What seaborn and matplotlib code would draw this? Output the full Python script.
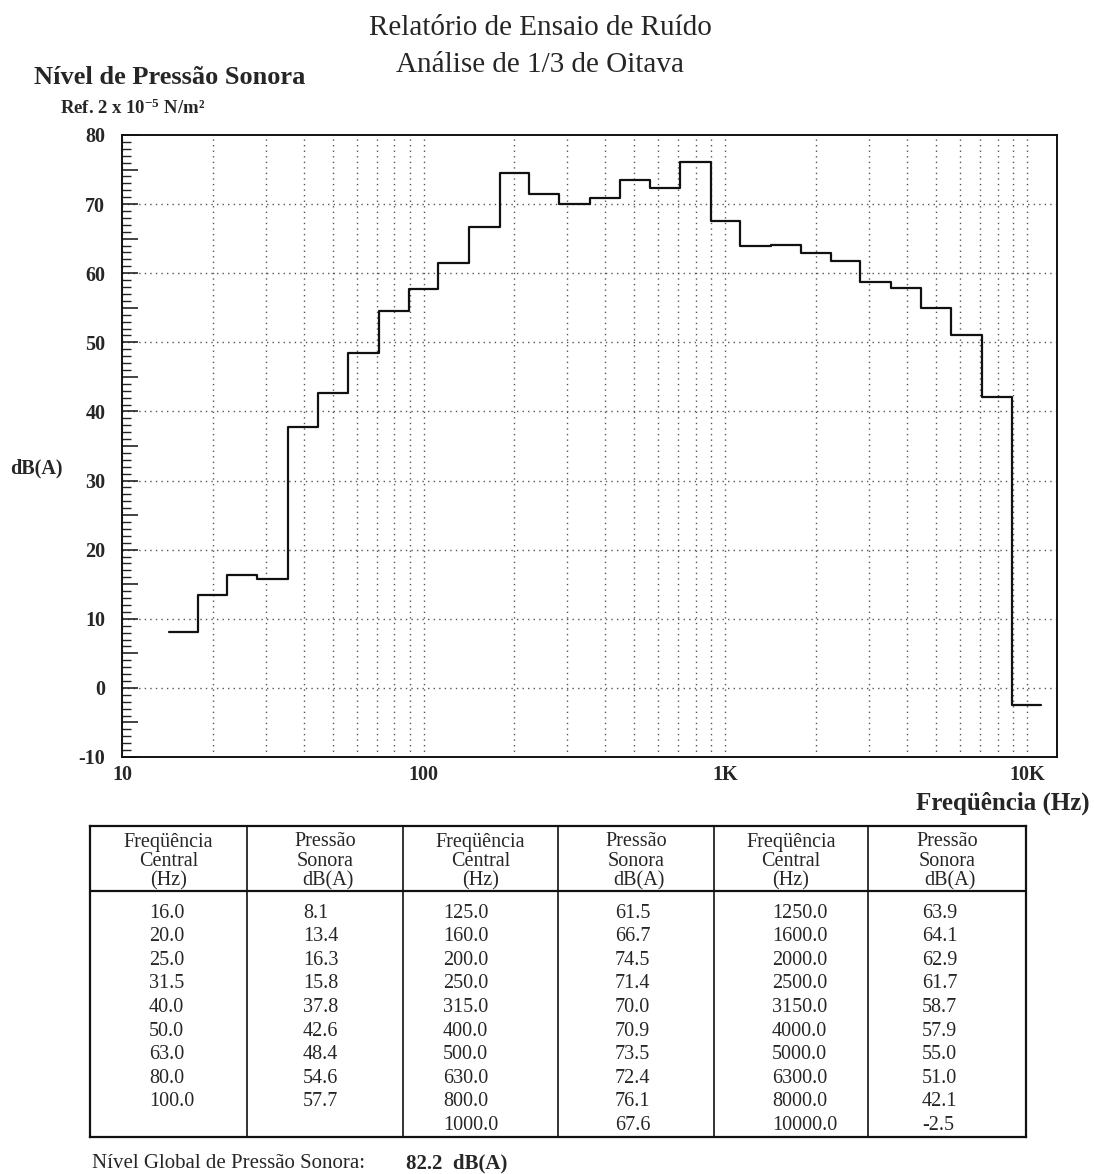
import numpy as np
import matplotlib
matplotlib.use("Agg")
import matplotlib.pyplot as plt
import matplotlib.ticker as mticker
import seaborn as sns

# ---------------- data ----------------
freqs = [16.0, 20.0, 25.0, 31.5, 40.0, 50.0, 63.0, 80.0, 100.0,
         125.0, 160.0, 200.0, 250.0, 315.0, 400.0, 500.0, 630.0, 800.0, 1000.0,
         1250.0, 1600.0, 2000.0, 2500.0, 3150.0, 4000.0, 5000.0, 6300.0, 8000.0, 10000.0]
levels = [8.1, 13.4, 16.3, 15.8, 37.8, 42.6, 48.4, 54.6, 57.7,
          61.5, 66.7, 74.5, 71.4, 70.0, 70.9, 73.5, 72.4, 76.1, 67.6,
          63.9, 64.1, 62.9, 61.7, 58.7, 57.9, 55.0, 51.0, 42.1, -2.5]
group_sizes = [9, 10, 10]
x_tick_values = [10, 100, 1000, 10000]
x_tick_labels = ["10", "100", "1K", "10K"]
overall_level = 82.2

title_lines = ["Relatório de Ensaio de Ruído", "Análise de 1/3 de Oitava"]
header_freq = ["Freqüência", "Central", "(Hz)"]
header_level = ["Pressão", "Sonora", "dB(A)"]

# ---------------- style ----------------
sns.set_style("white")
plt.rcParams["font.family"] = ["Liberation Serif", "DejaVu Serif"]
plt.rcParams["axes.unicode_minus"] = False
plt.rcParams["mathtext.fontset"] = "custom"
plt.rcParams["mathtext.rm"] = "Liberation Serif:bold"
plt.rcParams["mathtext.it"] = "Liberation Serif:bold"
plt.rcParams["mathtext.bf"] = "Liberation Serif:bold"
plt.rcParams["mathtext.default"] = "rm"

W, H = 1094, 1174
fig = plt.figure(figsize=(W / 100, H / 100), dpi=100)
fig.patch.set_facecolor("white")


def fx(x):
    return x / W


def fy(y):
    return 1 - y / H


# ---------------- main axes ----------------
ax_l, ax_r, ax_t, ax_b = 122, 1057, 135, 757
ax = fig.add_axes([fx(ax_l), fy(ax_b), (ax_r - ax_l) / W, (ax_b - ax_t) / H])

f = np.array(freqs)
lv = np.array(levels)
mids = np.sqrt(f[:-1] * f[1:])
first_edge = f[0] / np.sqrt(f[1] / f[0])
last_edge = f[-1] * np.sqrt(f[-1] / f[-2])
edges = np.concatenate([[first_edge], mids, [last_edge]])
vals = np.concatenate([lv, [lv[-1]]])

sns.lineplot(x=edges, y=vals, drawstyle="steps-post", estimator=None, sort=False,
             color="#111111", linewidth=1.6, ax=ax)

ax.set_xscale("log")
ax.set_xlim(10, 12600)
ax.set_ylim(-10, 80)

grid_style = dict(color="#555555", linestyle=(0, (1, 3)), linewidth=1.0)

# x ticks
ax.xaxis.set_major_locator(mticker.FixedLocator(x_tick_values))
ax.xaxis.set_major_formatter(mticker.FixedFormatter(x_tick_labels))
ax.xaxis.set_minor_locator(mticker.LogLocator(base=10, subs=np.arange(2, 10)))
ax.xaxis.set_minor_formatter(mticker.NullFormatter())
ax.tick_params(axis="x", which="both", length=0, pad=6, labelsize=14.5)
for t in ax.get_xticklabels():
    t.set_fontweight("bold")
ax.grid(which="both", axis="x", **grid_style)

# y ticks
ax.yaxis.set_major_locator(mticker.MultipleLocator(5))
ax.yaxis.set_minor_locator(mticker.MultipleLocator(1))
ax.yaxis.set_major_formatter(mticker.FuncFormatter(
    lambda v, p: f"{int(round(v))}" if int(round(v)) % 10 == 0 else ""))
ax.tick_params(axis="y", which="major", direction="in", length=11.5, width=1.2,
               pad=12, labelsize=14.5, left=True, color="#222222")
ax.tick_params(axis="y", which="minor", direction="in", length=6.5, width=1.0,
               left=True, color="#222222")
for t in ax.get_yticklabels():
    t.set_fontweight("bold")
for yv in np.arange(0, 80, 10):
    ax.axhline(yv, zorder=0.5, **grid_style)

for s in ax.spines.values():
    s.set_visible(True)
    s.set_color("#111111")
    s.set_linewidth(1.4)
ax.set_xlabel("")
ax.set_ylabel("")

# ---------------- texts around ----------------
fig.text(fx(540), fy(28), title_lines[0], ha="center", va="center", fontsize=21)
fig.text(fx(540), fy(65), title_lines[1], ha="center", va="center", fontsize=21)
fig.text(fx(34), fy(77), "Nível de Pressão Sonora", ha="left", va="center",
         fontsize=19, fontweight="bold")
fig.text(fx(60), fy(108), r"Ref. 2 x 10$^{-5}$ N/m²", ha="left", va="center",
         fontsize=13.5, fontweight="bold")
fig.text(fx(10), fy(468), "dB(A)", ha="left", va="center", fontsize=14.5, fontweight="bold")
fig.text(fx(1090), fy(803), "Freqüência (Hz)", ha="right", va="center",
         fontsize=18, fontweight="bold")

# ---------------- table ----------------
t_l, t_r, t_t, t_b = 90, 1026, 826, 1137
tw, th = t_r - t_l, t_b - t_t
tax = fig.add_axes([fx(t_l), fy(t_b), tw / W, th / H])
tax.set_xlim(0, tw)
tax.set_ylim(th, 0)
tax.set_xticks([])
tax.set_yticks([])
for s in tax.spines.values():
    s.set_visible(True)
    s.set_color("#111111")
    s.set_linewidth(1.6)
col_edges = [0, 157, 313, 468, 624, 778, tw]
for xe in col_edges[1:-1]:
    tax.axvline(xe, color="#111111", linewidth=1.2)
tax.axhline(65, color="#111111", linewidth=1.6)

header_y = [16, 36, 55]
value_x = [59, 213, 353, 525, 682, 832]
row0, row_step = 87, 23.6
fs = 14.5

start = 0
for g, n in enumerate(group_sizes):
    c_f, c_l = 2 * g, 2 * g + 1
    cx_f = (col_edges[c_f] + col_edges[c_f + 1]) / 2
    cx_l = (col_edges[c_l] + col_edges[c_l + 1]) / 2
    for i, (hf, hl) in enumerate(zip(header_freq, header_level)):
        tax.text(cx_f, header_y[i], hf, ha="center", va="center", fontsize=fs)
        tax.text(cx_l + (3 if i == 2 else 0), header_y[i], hl, ha="center",
                 va="center", fontsize=fs)
    for r in range(n):
        fv = freqs[start + r]
        lvv = levels[start + r]
        yy = row0 + r * row_step
        tax.text(value_x[c_f], yy, f"{fv:.1f}", ha="left", va="center", fontsize=fs)
        tax.text(value_x[c_l], yy, f"{lvv:.1f}", ha="left", va="center", fontsize=fs)
    start += n

fig.text(fx(92), fy(1163), "Nível Global de Pressão Sonora:", ha="left", va="center",
         fontsize=15)
fig.text(fx(406), fy(1163), f"{overall_level:.1f}  dB(A)", ha="left", va="center",
         fontsize=15, fontweight="bold")

fig.savefig("out.png", dpi=100, facecolor="white")
